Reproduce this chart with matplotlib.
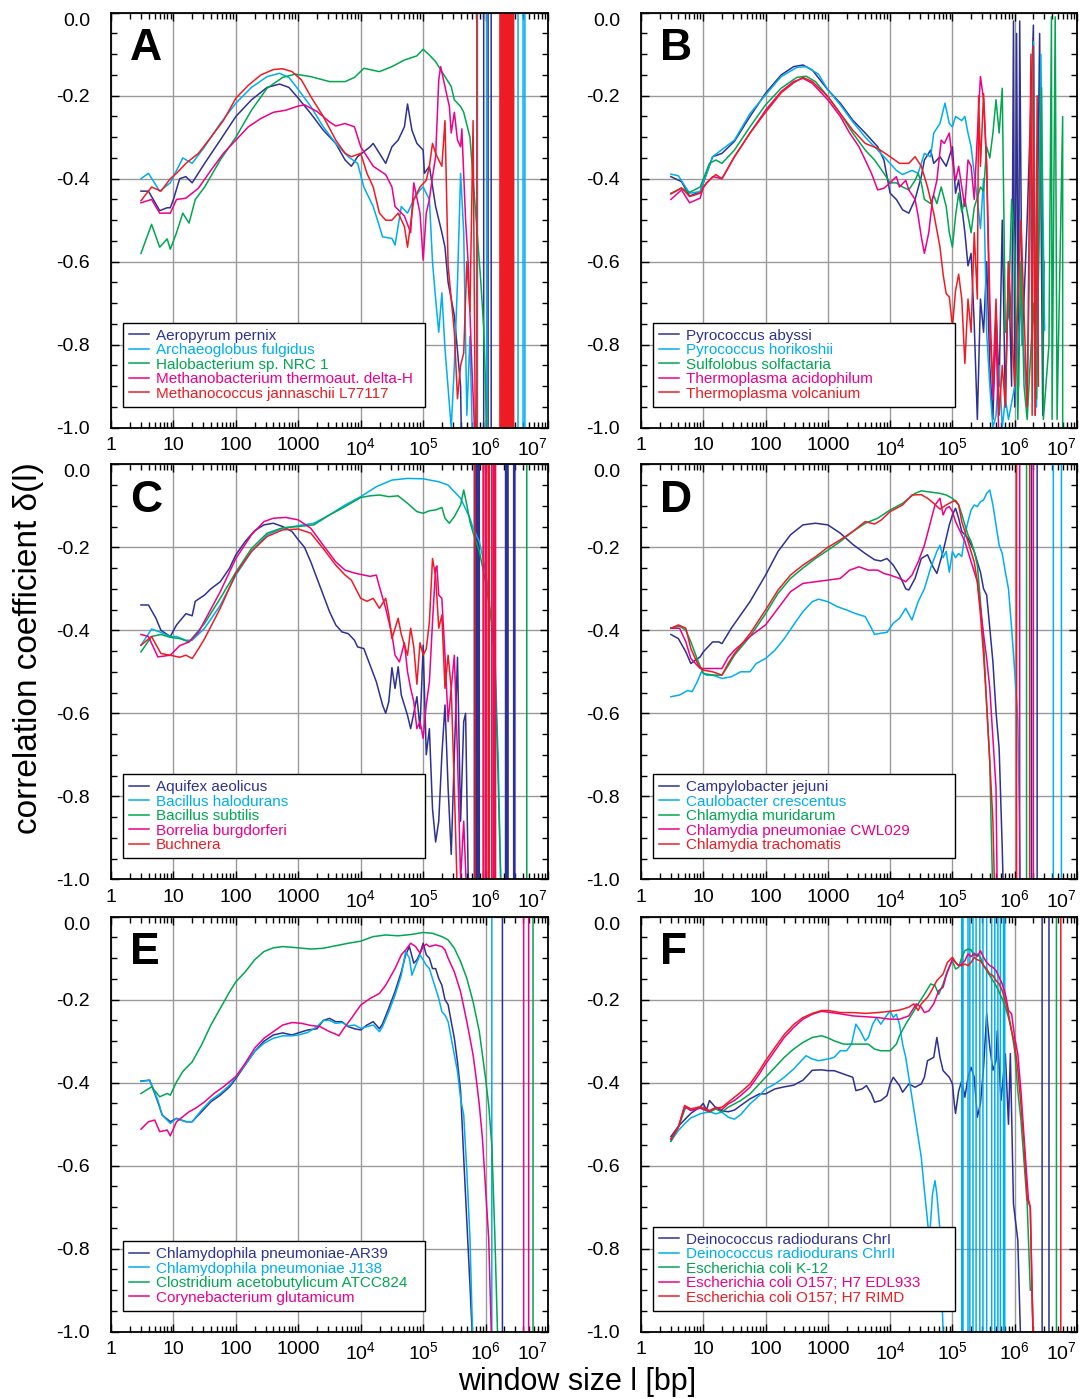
import numpy as np
import matplotlib
matplotlib.use("Agg")
import matplotlib.pyplot as plt
from matplotlib.ticker import FixedLocator, LogLocator, MultipleLocator, NullFormatter

plt.rcParams['font.family'] = ['Liberation Sans', 'DejaVu Sans']
plt.rcParams['mathtext.fontset'] = 'custom'
plt.rcParams['mathtext.rm'] = 'Liberation Sans'
plt.rcParams['mathtext.it'] = 'Liberation Sans:italic'
plt.rcParams['mathtext.bf'] = 'Liberation Sans:bold'

NAVY, CYAN, GREEN, MAGENTA, RED = '#2e3192', '#00aeef', '#00a651', '#ec008c', '#ed1c24'

# x values are log10(window size); d values are the correlation coefficient.
# *_spk lists the window sizes (log10) where the estimate swings far off scale.

# ---------------- A ----------------
a_aero_lx = [0.48,0.6,0.78,0.9,0.95,1.0,1.1,1.2,1.3,1.5,1.75,2.0,2.25,2.5,2.7,2.85,3.0,3.2,3.4,3.6,3.75,3.85,3.95,4.05,4.15,4.2,4.3,4.4,4.5,4.6,4.7,4.75,4.82,4.9,5.0,5.02,5.1,5.2,5.3,5.35,5.4,5.5,5.6,5.62]
a_aero_d = [-0.43,-0.43,-0.477,-0.47,-0.47,-0.45,-0.40,-0.395,-0.41,-0.363,-0.307,-0.25,-0.21,-0.18,-0.172,-0.18,-0.206,-0.243,-0.283,-0.315,-0.355,-0.37,-0.347,-0.335,-0.323,-0.315,-0.339,-0.363,-0.323,-0.307,-0.275,-0.22,-0.283,-0.315,-0.331,-0.387,-0.37,-0.467,-0.53,-0.565,-0.65,-0.73,-0.9,-1.1]
a_aero_spk = [5.97, 6.04, 6.09]

a_arch_lx = [0.48,0.6,0.78,0.95,1.0,1.15,1.3,1.5,1.75,2.0,2.25,2.5,2.7,2.85,3.0,3.2,3.4,3.6,3.8,3.95,4.05,4.2,4.3,4.35,4.5,4.55,4.65,4.75,4.85,4.95,5.0,5.1,5.15,5.2,5.25,5.3,5.35,5.45,5.5,5.55,5.6,5.65,5.7,5.75,5.8]
a_arch_d = [-0.40,-0.387,-0.43,-0.41,-0.395,-0.35,-0.363,-0.323,-0.267,-0.218,-0.18,-0.154,-0.146,-0.156,-0.185,-0.226,-0.275,-0.315,-0.347,-0.363,-0.42,-0.467,-0.515,-0.54,-0.544,-0.56,-0.467,-0.483,-0.45,-0.427,-0.42,-0.45,-0.6,-0.69,-0.77,-0.675,-0.81,-1.0,-0.85,-0.65,-0.387,-0.53,-0.97,-0.78,-1.1]
a_arch_spk = [5.87, 6.02, 6.52, 6.6, 6.63]

a_halo_lx = [0.48,0.65,0.78,0.9,0.95,1.05,1.15,1.25,1.35,1.5,1.75,2.0,2.25,2.5,2.75,2.95,3.2,3.5,3.75,3.9,4.05,4.3,4.5,4.7,4.9,5.0,5.1,5.2,5.25,5.35,5.45,5.5,5.6,5.65,5.75,5.85,5.92,5.97,6.0,6.02]
a_halo_d = [-0.58,-0.51,-0.565,-0.545,-0.57,-0.53,-0.483,-0.507,-0.45,-0.42,-0.355,-0.3,-0.235,-0.182,-0.156,-0.148,-0.154,-0.166,-0.166,-0.156,-0.134,-0.142,-0.13,-0.114,-0.104,-0.088,-0.102,-0.118,-0.13,-0.154,-0.178,-0.21,-0.226,-0.24,-0.30,-0.5,-0.64,-0.76,-0.9,-1.1]
a_halo_spk = [6.3]

a_mthb_lx = [0.48,0.65,0.78,0.95,1.05,1.2,1.4,1.6,1.8,2.0,2.2,2.4,2.6,2.8,3.0,3.1,3.3,3.5,3.6,3.75,3.9,4.0,4.2,4.4,4.5,4.55,4.7,4.8,4.85,4.95,5.0,5.05,5.1,5.15,5.2,5.25,5.28,5.35,5.42,5.45,5.5,5.55,5.6,5.62,5.68,5.72,5.78,5.85]
a_mthb_d = [-0.458,-0.45,-0.483,-0.483,-0.45,-0.447,-0.423,-0.38,-0.339,-0.307,-0.275,-0.255,-0.24,-0.235,-0.225,-0.222,-0.238,-0.263,-0.273,-0.267,-0.275,-0.323,-0.37,-0.39,-0.42,-0.467,-0.49,-0.53,-0.41,-0.483,-0.596,-0.483,-0.45,-0.395,-0.347,-0.162,-0.13,-0.178,-0.226,-0.29,-0.24,-0.307,-0.323,-0.28,-0.5,-0.6,-0.85,-1.1]
a_mthb_spk = [6.25, 6.31]

a_mthc_lx = [0.48,0.65,0.8,0.95,1.05,1.2,1.4,1.6,1.8,2.0,2.2,2.4,2.6,2.75,2.9,3.05,3.2,3.4,3.6,3.75,3.85,4.0,4.1,4.2,4.3,4.4,4.5,4.6,4.7,4.75,4.85,4.95,5.05,5.1,5.15,5.2,5.25,5.3,5.35,5.4,5.45,5.5,5.55,5.6,5.65,5.7,5.75,5.8,5.84]
a_mthc_d = [-0.453,-0.42,-0.43,-0.4,-0.387,-0.363,-0.339,-0.3,-0.26,-0.206,-0.175,-0.15,-0.137,-0.135,-0.142,-0.162,-0.202,-0.25,-0.307,-0.339,-0.347,-0.339,-0.387,-0.42,-0.483,-0.5,-0.5,-0.483,-0.515,-0.565,-0.45,-0.42,-0.404,-0.37,-0.315,-0.339,-0.355,-0.37,-0.26,-0.61,-0.69,-0.77,-0.93,-0.85,-0.82,-0.6,-0.72,-0.26,-1.1]
a_mthc_spk = [5.86, 6.23, 6.25, 6.27, 6.29, 6.31, 6.33, 6.35, 6.37, 6.39, 6.41, 6.43, 6.45]

# ---------------- B ----------------
b_pab_lx = [0.48,0.65,0.78,0.95,1.0,1.15,1.3,1.5,1.75,2.0,2.25,2.45,2.6,2.75,3.0,3.2,3.4,3.6,3.8,3.9,4.0,4.1,4.2,4.3,4.4,4.5,4.55,4.65,4.7,4.8,4.9,5.0,5.05,5.1,5.2,5.25,5.3,5.35,5.4,5.45,5.5,5.55,5.6,5.65,5.7,5.75,5.8,5.85,5.9,5.95,5.98,6.0,6.03,6.06,6.08,6.12,6.2,6.3,6.33,6.4,6.45,6.47]
b_pab_d = [-0.395,-0.407,-0.442,-0.431,-0.41,-0.347,-0.339,-0.31,-0.25,-0.194,-0.15,-0.13,-0.126,-0.138,-0.186,-0.218,-0.259,-0.29,-0.323,-0.355,-0.435,-0.45,-0.475,-0.483,-0.45,-0.395,-0.355,-0.331,-0.363,-0.347,-0.37,-0.323,-0.435,-0.404,-0.53,-0.61,-0.58,-0.75,-0.98,-0.69,-0.77,-0.6,-0.85,-0.98,-0.72,-0.9,-0.5,-0.95,-0.6,-0.9,-0.02,-0.95,-0.05,-0.9,-0.02,-0.8,-0.5,-0.03,-0.97,-0.05,-0.97,-0.6]

b_pho_lx = [0.48,0.6,0.78,0.95,1.15,1.5,1.75,2.0,2.25,2.5,2.65,2.85,3.0,3.2,3.4,3.6,3.8,3.95,4.1,4.2,4.35,4.45,4.55,4.65,4.7,4.8,4.88,4.95,5.0,5.05,5.15,5.2,5.25,5.3,5.35,5.4,5.45,5.5,5.55,5.6,5.65,5.7,5.75,5.8,5.85,5.9,6.0,6.1,6.2,6.3,6.35,6.42,6.48]
b_pho_d = [-0.389,-0.393,-0.435,-0.431,-0.347,-0.307,-0.243,-0.198,-0.154,-0.132,-0.13,-0.148,-0.186,-0.222,-0.263,-0.3,-0.331,-0.355,-0.38,-0.39,-0.38,-0.387,-0.339,-0.347,-0.29,-0.267,-0.218,-0.267,-0.275,-0.25,-0.26,-0.25,-0.29,-0.323,-0.387,-0.45,-0.52,-0.40,-0.77,-0.9,-1.0,-0.97,-0.85,-1.0,-0.93,-0.98,-0.9,-0.7,-0.95,-0.07,-0.95,-0.1,-0.765]

b_sul_lx = [0.48,0.65,0.78,0.95,1.1,1.2,1.3,1.5,1.75,2.0,2.25,2.5,2.65,2.8,3.0,3.2,3.4,3.6,3.75,3.9,4.0,4.1,4.2,4.3,4.4,4.45,4.5,4.55,4.65,4.7,4.75,4.82,4.9,4.95,5.0,5.05,5.1,5.15,5.2,5.25,5.3,5.35,5.4,5.45,5.5,5.55,5.6,5.65,5.7,5.75,5.8,5.85,5.9,5.95,6.0,6.05,6.1,6.15,6.2,6.3,6.35,6.43,6.46,6.55,6.59,6.6,6.65,6.68,6.77,6.77]
b_sul_d = [-0.435,-0.423,-0.433,-0.42,-0.363,-0.355,-0.363,-0.331,-0.275,-0.222,-0.182,-0.156,-0.153,-0.166,-0.202,-0.243,-0.29,-0.331,-0.355,-0.387,-0.41,-0.41,-0.42,-0.427,-0.404,-0.387,-0.41,-0.45,-0.46,-0.44,-0.46,-0.42,-0.467,-0.53,-0.565,-0.49,-0.435,-0.48,-0.45,-0.49,-0.53,-0.47,-0.445,-0.42,-0.43,-0.323,-0.35,-0.29,-0.21,-0.29,-0.182,-0.77,-0.73,-0.45,-0.57,-0.98,-0.6,-0.9,-0.98,-0.7,-0.93,-0.18,-0.98,-0.8,-0.01,-0.98,-0.01,-0.98,-0.25,-1.0]

b_tac_lx = [0.48,0.65,0.78,0.95,1.0,1.15,1.3,1.5,1.75,2.0,2.25,2.45,2.6,2.75,3.0,3.2,3.35,3.5,3.6,3.7,3.8,3.9,4.0,4.1,4.15,4.25,4.3,4.4,4.45,4.5,4.55,4.62,4.68,4.75,4.82,4.87,4.95,5.0,5.05,5.1,5.15,5.2,5.25,5.3,5.35,5.42,5.45,5.5,5.55,5.6,5.65,5.7,5.75]
b_tac_d = [-0.45,-0.427,-0.458,-0.447,-0.42,-0.395,-0.4,-0.347,-0.29,-0.235,-0.19,-0.166,-0.158,-0.17,-0.21,-0.25,-0.29,-0.323,-0.355,-0.387,-0.427,-0.423,-0.41,-0.395,-0.42,-0.404,-0.427,-0.45,-0.49,-0.54,-0.58,-0.53,-0.45,-0.404,-0.307,-0.315,-0.29,-0.355,-0.404,-0.37,-0.42,-0.467,-0.355,-0.37,-0.45,-0.235,-0.154,-0.21,-0.37,-0.69,-0.93,-0.77,-1.05]

b_tvo_lx = [0.48,0.65,0.78,0.95,1.05,1.2,1.3,1.5,1.75,2.0,2.25,2.45,2.6,2.75,3.0,3.2,3.4,3.6,3.8,4.0,4.15,4.3,4.4,4.5,4.6,4.7,4.8,4.85,4.9,4.95,5.0,5.05,5.1,5.15,5.2,5.25,5.3,5.35,5.4,5.42,5.45,5.5,5.55,5.6,5.65,5.7,5.75,5.8,5.85,5.9,6.0,6.1,6.2,6.26,6.28,6.3,6.33,6.36,6.38]
b_tvo_d = [-0.437,-0.422,-0.443,-0.435,-0.41,-0.39,-0.4,-0.347,-0.29,-0.24,-0.193,-0.169,-0.156,-0.166,-0.202,-0.243,-0.283,-0.315,-0.327,-0.347,-0.363,-0.363,-0.347,-0.37,-0.42,-0.483,-0.565,-0.63,-0.677,-0.685,-0.757,-0.67,-0.63,-0.69,-0.845,-0.69,-0.77,-0.53,-0.69,-0.2,-0.37,-0.195,-0.37,-0.77,-0.89,-0.69,-0.97,-0.85,-0.95,-0.6,-0.9,-0.5,-0.95,-0.1,-0.97,-0.08,-0.97,-0.2,-0.9]

# ---------------- C ----------------
c_aqu_lx = [0.48,0.6,0.72,0.8,0.95,1.05,1.2,1.3,1.35,1.5,1.6,1.75,1.9,2.0,2.15,2.3,2.45,2.6,2.75,2.9,3.0,3.1,3.2,3.3,3.4,3.5,3.6,3.7,3.8,3.9,3.95,4.05,4.15,4.25,4.35,4.4,4.45,4.5,4.55,4.6,4.65,4.75,4.8,4.85,4.9,4.95,5.0,5.05,5.1,5.15,5.2,5.25,5.3,5.35,5.4,5.45,5.5,5.55,5.6,5.65,5.68,5.72,5.75]
c_aqu_d = [-0.339,-0.339,-0.371,-0.4,-0.415,-0.387,-0.36,-0.365,-0.33,-0.315,-0.3,-0.283,-0.25,-0.218,-0.186,-0.16,-0.146,-0.142,-0.15,-0.162,-0.182,-0.2,-0.235,-0.275,-0.315,-0.355,-0.387,-0.404,-0.408,-0.424,-0.44,-0.444,-0.484,-0.524,-0.58,-0.6,-0.572,-0.49,-0.54,-0.488,-0.556,-0.605,-0.637,-0.6,-0.56,-0.637,-0.436,-0.7,-0.637,-0.83,-0.91,-0.86,-0.7,-0.58,-0.78,-0.94,-0.7,-0.465,-0.86,-0.62,-0.6,-0.98,-1.1]
c_aqu_spk = [5.82, 5.84, 5.86, 5.88, 5.9, 6.32, 6.34, 6.36, 6.45, 6.47]

c_bha_lx = [0.48,0.65,0.8,0.95,1.05,1.2,1.3,1.5,1.75,2.0,2.25,2.5,2.75,3.0,3.25,3.5,3.75,4.0,4.25,4.5,4.75,5.0,5.25,5.4,5.5,5.6,5.7,5.75,5.8,5.9,5.95,6.0,6.05,6.1,6.15,6.2,6.25]
c_bha_d = [-0.436,-0.397,-0.405,-0.415,-0.415,-0.424,-0.424,-0.395,-0.34,-0.267,-0.21,-0.17,-0.154,-0.148,-0.142,-0.122,-0.098,-0.078,-0.054,-0.038,-0.034,-0.035,-0.042,-0.05,-0.066,-0.082,-0.114,-0.13,-0.154,-0.186,-0.22,-0.26,-0.31,-0.40,-0.46,-0.7,-1.05]

c_bsu_lx = [0.48,0.65,0.8,0.95,1.1,1.25,1.5,1.75,2.0,2.25,2.5,2.75,3.0,3.25,3.5,3.75,4.0,4.15,4.3,4.45,4.6,4.75,4.9,5.0,5.1,5.2,5.3,5.35,5.42,5.5,5.6,5.65,5.7,5.75,5.8,5.9,6.0,6.1,6.15,6.2,6.25]
c_bsu_d = [-0.452,-0.415,-0.41,-0.417,-0.42,-0.428,-0.383,-0.323,-0.26,-0.203,-0.166,-0.153,-0.15,-0.146,-0.122,-0.102,-0.08,-0.076,-0.074,-0.078,-0.076,-0.094,-0.114,-0.118,-0.112,-0.11,-0.104,-0.13,-0.142,-0.126,-0.098,-0.062,-0.098,-0.138,-0.165,-0.21,-0.283,-0.38,-0.492,-0.75,-1.05]
c_bsu_spk = [6.66]

c_bor_lx = [0.48,0.6,0.75,0.95,1.1,1.25,1.4,1.55,1.75,2.0,2.25,2.45,2.6,2.8,3.0,3.2,3.4,3.6,3.75,3.9,4.05,4.15,4.25,4.3,4.4,4.5,4.55,4.62,4.7,4.75,4.8,4.85,4.9,4.95,5.0,5.05,5.1,5.15,5.2,5.22,5.25,5.3,5.35,5.4,5.45,5.5,5.55,5.6,5.65,5.7]
c_bor_d = [-0.41,-0.415,-0.464,-0.46,-0.437,-0.428,-0.405,-0.363,-0.307,-0.227,-0.17,-0.138,-0.13,-0.128,-0.134,-0.154,-0.195,-0.235,-0.255,-0.262,-0.267,-0.27,-0.267,-0.295,-0.347,-0.41,-0.46,-0.476,-0.43,-0.5,-0.54,-0.572,-0.637,-0.62,-0.66,-0.58,-0.525,-0.38,-0.25,-0.245,-0.315,-0.323,-0.46,-0.62,-0.54,-0.46,-0.7,-1.0,-0.86,-1.05]
c_bor_spk = [5.97, 6.0, 6.05, 6.1, 6.13, 6.16]

c_buc_lx = [0.48,0.65,0.8,0.95,1.1,1.2,1.3,1.4,1.5,1.75,2.0,2.25,2.5,2.75,3.0,3.2,3.4,3.6,3.75,3.85,4.0,4.1,4.2,4.3,4.4,4.45,4.5,4.6,4.65,4.75,4.8,4.85,4.9,4.95,5.0,5.05,5.1,5.15,5.2,5.25,5.3,5.35,5.4,5.45,5.5,5.55]
c_buc_d = [-0.436,-0.415,-0.456,-0.46,-0.465,-0.46,-0.468,-0.445,-0.42,-0.347,-0.263,-0.21,-0.174,-0.158,-0.156,-0.166,-0.203,-0.243,-0.267,-0.279,-0.323,-0.33,-0.323,-0.347,-0.323,-0.363,-0.42,-0.371,-0.41,-0.46,-0.395,-0.44,-0.53,-0.43,-0.46,-0.445,-0.38,-0.227,-0.27,-0.395,-0.363,-0.54,-0.46,-0.54,-0.78,-1.05]
c_buc_spk = [5.83, 5.96, 6.02, 6.06, 6.1, 6.14]

# ---------------- D ----------------
d_cje_lx = [0.48,0.6,0.72,0.8,0.95,1.0,1.15,1.25,1.3,1.45,1.6,1.75,2.0,2.2,2.4,2.6,2.8,3.0,3.2,3.4,3.6,3.75,3.85,3.95,4.05,4.15,4.25,4.3,4.4,4.5,4.6,4.68,4.75,4.85,4.95,5.0,5.05,5.1,5.15,5.25,5.35,5.45,5.5,5.55,5.6,5.65,5.7,5.75,5.8,5.82]
d_cje_d = [-0.41,-0.42,-0.452,-0.48,-0.464,-0.452,-0.428,-0.428,-0.432,-0.395,-0.363,-0.331,-0.267,-0.21,-0.17,-0.146,-0.142,-0.146,-0.166,-0.193,-0.215,-0.23,-0.233,-0.227,-0.243,-0.267,-0.3,-0.303,-0.275,-0.227,-0.218,-0.245,-0.263,-0.21,-0.146,-0.122,-0.106,-0.13,-0.162,-0.178,-0.21,-0.26,-0.3,-0.315,-0.395,-0.476,-0.597,-0.685,-0.926,-1.05]
d_cje_spk = [6.27, 6.36]

d_ccr_lx = [0.48,0.62,0.75,0.82,0.9,0.97,1.05,1.15,1.3,1.45,1.6,1.75,1.85,2.0,2.15,2.3,2.45,2.6,2.75,2.85,3.0,3.15,3.3,3.45,3.6,3.7,3.75,3.85,3.95,4.05,4.15,4.25,4.35,4.45,4.55,4.65,4.75,4.8,4.85,4.9,4.95,5.0,5.05,5.1,5.15,5.2,5.25,5.3,5.35,5.4,5.45,5.5,5.55,5.6,5.65,5.7,5.75,5.8,5.85,5.9,5.95,6.0,6.05,6.1]
d_ccr_d = [-0.56,-0.556,-0.545,-0.548,-0.525,-0.5,-0.508,-0.508,-0.516,-0.512,-0.5,-0.5,-0.48,-0.468,-0.448,-0.42,-0.387,-0.355,-0.331,-0.325,-0.331,-0.343,-0.351,-0.36,-0.367,-0.395,-0.41,-0.407,-0.405,-0.383,-0.371,-0.347,-0.375,-0.331,-0.3,-0.25,-0.21,-0.195,-0.225,-0.21,-0.26,-0.21,-0.225,-0.215,-0.222,-0.17,-0.138,-0.11,-0.098,-0.102,-0.09,-0.086,-0.07,-0.062,-0.098,-0.146,-0.195,-0.215,-0.26,-0.3,-0.395,-0.5,-0.613,-1.1]
d_ccr_spk = [6.62, 6.75]

d_cmu_lx = [0.48,0.62,0.72,0.8,0.92,1.0,1.15,1.3,1.4,1.5,1.75,2.0,2.2,2.4,2.6,2.8,3.0,3.2,3.4,3.6,3.8,4.0,4.2,4.4,4.5,4.6,4.7,4.8,4.9,5.0,5.05,5.1,5.15,5.2,5.25,5.3,5.35,5.4,5.45,5.5,5.55,5.6,5.62,5.65]
d_cmu_d = [-0.395,-0.39,-0.4,-0.428,-0.476,-0.504,-0.508,-0.508,-0.485,-0.46,-0.415,-0.36,-0.311,-0.275,-0.25,-0.227,-0.207,-0.186,-0.162,-0.142,-0.13,-0.11,-0.094,-0.07,-0.064,-0.066,-0.068,-0.07,-0.074,-0.082,-0.09,-0.098,-0.12,-0.146,-0.17,-0.186,-0.21,-0.243,-0.331,-0.428,-0.58,-0.717,-0.86,-1.05]
d_cmu_spk = [6.19]

d_cpn_lx = [0.48,0.62,0.72,0.8,0.95,1.1,1.3,1.4,1.5,1.75,2.0,2.2,2.4,2.6,2.8,3.0,3.2,3.35,3.5,3.65,3.8,3.9,4.0,4.15,4.25,4.35,4.45,4.55,4.65,4.72,4.8,4.85,4.9,4.95,5.0,5.05,5.1,5.2,5.3,5.4,5.45,5.5,5.55,5.6,5.65,5.7,5.72]
d_cpn_d = [-0.395,-0.395,-0.428,-0.468,-0.492,-0.492,-0.492,-0.465,-0.448,-0.415,-0.387,-0.347,-0.307,-0.287,-0.283,-0.279,-0.275,-0.255,-0.247,-0.255,-0.255,-0.263,-0.267,-0.275,-0.283,-0.267,-0.235,-0.195,-0.138,-0.098,-0.082,-0.122,-0.106,-0.102,-0.114,-0.138,-0.154,-0.186,-0.235,-0.283,-0.347,-0.41,-0.468,-0.54,-0.66,-0.78,-1.05]
d_cpn_spk = [6.08, 6.3]

d_ctr_lx = [0.48,0.6,0.72,0.8,0.92,1.0,1.15,1.3,1.4,1.5,1.75,2.0,2.2,2.4,2.6,2.8,3.0,3.2,3.4,3.6,3.75,3.85,4.0,4.2,4.35,4.5,4.6,4.7,4.8,4.9,5.0,5.05,5.1,5.15,5.25,5.35,5.4,5.45,5.5,5.55,5.6,5.65,5.68]
d_ctr_d = [-0.395,-0.387,-0.395,-0.444,-0.484,-0.496,-0.5,-0.508,-0.48,-0.456,-0.408,-0.351,-0.303,-0.267,-0.243,-0.223,-0.2,-0.182,-0.162,-0.138,-0.144,-0.135,-0.114,-0.098,-0.074,-0.073,-0.082,-0.094,-0.108,-0.098,-0.09,-0.087,-0.098,-0.138,-0.186,-0.235,-0.283,-0.363,-0.46,-0.58,-0.717,-0.86,-1.05]
d_ctr_spk = [6.03, 6.24]

# ---------------- E ----------------
e_ar39_lx = [0.48,0.62,0.75,0.82,0.95,1.05,1.2,1.3,1.45,1.6,1.75,1.9,2.0,2.15,2.3,2.45,2.6,2.75,2.9,3.0,3.15,3.3,3.4,3.5,3.6,3.7,3.8,3.9,4.0,4.1,4.2,4.3,4.35,4.45,4.55,4.65,4.72,4.78,4.85,4.9,4.95,5.0,5.05,5.1,5.15,5.2,5.25,5.3,5.35,5.4,5.45,5.5,5.55,5.6,5.65,5.7,5.75,5.8]
e_ar39_d = [-0.396,-0.394,-0.446,-0.478,-0.494,-0.486,-0.494,-0.494,-0.47,-0.446,-0.43,-0.41,-0.39,-0.357,-0.325,-0.3,-0.285,-0.28,-0.285,-0.28,-0.273,-0.27,-0.25,-0.245,-0.253,-0.253,-0.265,-0.27,-0.273,-0.261,-0.253,-0.27,-0.258,-0.22,-0.18,-0.133,-0.092,-0.072,-0.112,-0.104,-0.088,-0.064,-0.092,-0.1,-0.125,-0.125,-0.149,-0.165,-0.2,-0.212,-0.253,-0.293,-0.35,-0.42,-0.582,-0.735,-0.888,-1.05]
e_ar39_spk = [6.27]

e_j138_lx = [0.48,0.62,0.75,0.82,0.95,1.05,1.2,1.3,1.45,1.6,1.75,1.9,2.0,2.15,2.3,2.45,2.6,2.75,2.9,3.0,3.15,3.3,3.4,3.5,3.6,3.7,3.8,3.9,4.0,4.1,4.2,4.3,4.35,4.45,4.55,4.65,4.72,4.78,4.82,4.88,4.95,5.0,5.05,5.1,5.15,5.2,5.25,5.3,5.35,5.4,5.45,5.5,5.55,5.6,5.65,5.7,5.75,5.8]
e_j138_d = [-0.397,-0.394,-0.442,-0.478,-0.498,-0.486,-0.494,-0.494,-0.466,-0.442,-0.426,-0.406,-0.386,-0.357,-0.325,-0.305,-0.293,-0.287,-0.287,-0.285,-0.279,-0.265,-0.25,-0.25,-0.257,-0.255,-0.263,-0.261,-0.269,-0.265,-0.261,-0.277,-0.265,-0.229,-0.189,-0.141,-0.084,-0.1,-0.141,-0.117,-0.092,-0.104,-0.117,-0.125,-0.149,-0.173,-0.197,-0.229,-0.237,-0.253,-0.293,-0.333,-0.373,-0.438,-0.478,-0.614,-0.775,-1.05]
e_j138_spk = [6.1]

e_clo_lx = [0.48,0.65,0.78,0.9,0.95,1.05,1.15,1.3,1.45,1.6,1.75,1.9,2.0,2.15,2.3,2.45,2.6,2.75,3.0,3.2,3.4,3.6,3.8,4.0,4.2,4.4,4.6,4.8,5.0,5.15,5.3,5.4,5.5,5.6,5.7,5.8,5.9,5.95,6.0,6.05,6.1,6.15,6.2]
e_clo_d = [-0.426,-0.41,-0.434,-0.426,-0.43,-0.398,-0.373,-0.35,-0.309,-0.261,-0.221,-0.181,-0.157,-0.133,-0.104,-0.084,-0.075,-0.072,-0.075,-0.078,-0.076,-0.07,-0.064,-0.059,-0.048,-0.044,-0.046,-0.043,-0.038,-0.04,-0.048,-0.056,-0.076,-0.108,-0.149,-0.205,-0.277,-0.333,-0.39,-0.454,-0.55,-0.775,-1.05]
e_clo_spk = [6.76]

e_cor_lx = [0.48,0.6,0.7,0.78,0.9,0.95,1.05,1.15,1.25,1.35,1.5,1.65,1.8,2.0,2.15,2.3,2.45,2.6,2.75,2.9,3.05,3.2,3.35,3.5,3.6,3.65,3.75,3.85,4.0,4.15,4.3,4.4,4.55,4.65,4.72,4.8,4.88,4.95,5.0,5.05,5.1,5.2,5.3,5.35,5.4,5.5,5.6,5.7,5.75,5.8,5.85,5.9,5.95,6.0,6.05,6.1]
e_cor_d = [-0.512,-0.494,-0.49,-0.518,-0.514,-0.528,-0.494,-0.482,-0.47,-0.462,-0.446,-0.426,-0.41,-0.385,-0.353,-0.317,-0.293,-0.277,-0.261,-0.255,-0.257,-0.262,-0.265,-0.277,-0.283,-0.287,-0.265,-0.245,-0.213,-0.197,-0.185,-0.165,-0.125,-0.092,-0.08,-0.064,-0.072,-0.088,-0.072,-0.066,-0.072,-0.068,-0.072,-0.08,-0.1,-0.133,-0.181,-0.253,-0.293,-0.333,-0.39,-0.454,-0.535,-0.655,-0.775,-1.05]
e_cor_spk = [6.61, 6.69]

# ---------------- F ----------------
f_dr1_lx = [0.48,0.6,0.72,0.8,0.95,1.0,1.05,1.1,1.2,1.3,1.4,1.5,1.6,1.75,1.9,2.0,2.15,2.3,2.45,2.6,2.75,2.9,3.0,3.1,3.25,3.4,3.45,3.55,3.62,3.7,3.75,3.85,3.95,4.0,4.05,4.15,4.2,4.3,4.4,4.5,4.55,4.6,4.7,4.75,4.8,4.85,4.95,5.0,5.03,5.05,5.1,5.15,5.2,5.25,5.3,5.35,5.4,5.45,5.5,5.55,5.6,5.65,5.7,5.72,5.78,5.85,5.9,5.93,5.98,6.05,6.1]
f_dr1_d = [-0.53,-0.505,-0.486,-0.474,-0.458,-0.45,-0.466,-0.443,-0.46,-0.468,-0.47,-0.466,-0.455,-0.439,-0.427,-0.427,-0.415,-0.41,-0.406,-0.394,-0.37,-0.369,-0.371,-0.371,-0.379,-0.387,-0.419,-0.415,-0.407,-0.427,-0.447,-0.443,-0.431,-0.403,-0.387,-0.407,-0.423,-0.403,-0.411,-0.403,-0.387,-0.347,-0.339,-0.291,-0.339,-0.371,-0.387,-0.403,-0.45,-0.474,-0.42,-0.395,-0.435,-0.387,-0.363,-0.387,-0.483,-0.45,-0.363,-0.234,-0.315,-0.37,-0.347,-0.275,-0.443,-0.331,-0.5,-0.33,-0.692,-0.78,-1.05]
f_dr1_spk = [6.44, 6.55]

f_dr2_lx = [0.48,0.6,0.72,0.8,0.95,1.1,1.2,1.3,1.4,1.5,1.6,1.75,1.9,2.0,2.15,2.3,2.45,2.55,2.65,2.75,2.85,3.0,3.1,3.2,3.3,3.38,3.45,3.52,3.6,3.65,3.72,3.78,3.85,3.92,4.0,4.05,4.1,4.15,4.2,4.25,4.3,4.35,4.4,4.5,4.55,4.6,4.63,4.68,4.72,4.75,4.8,4.85,4.9]
f_dr2_d = [-0.541,-0.515,-0.496,-0.485,-0.475,-0.47,-0.475,-0.471,-0.483,-0.488,-0.477,-0.451,-0.431,-0.415,-0.403,-0.387,-0.367,-0.351,-0.335,-0.343,-0.347,-0.343,-0.339,-0.323,-0.323,-0.307,-0.259,-0.275,-0.299,-0.291,-0.259,-0.243,-0.259,-0.243,-0.227,-0.243,-0.235,-0.259,-0.307,-0.339,-0.387,-0.435,-0.483,-0.58,-0.66,-0.733,-0.78,-0.668,-0.636,-0.668,-0.757,-1.0,-1.1]
f_dr2_spk = [5.15, 5.17, 5.25, 5.28, 5.33, 5.38, 5.44, 5.49, 5.55, 5.63, 5.68, 5.73, 5.77, 5.82, 5.84]

f_k12_lx = [0.48,0.6,0.72,0.8,0.95,1.1,1.2,1.3,1.4,1.5,1.6,1.75,1.9,2.0,2.15,2.3,2.45,2.6,2.75,2.9,3.0,3.1,3.25,3.4,3.55,3.65,3.75,3.85,4.0,4.05,4.1,4.15,4.25,4.35,4.45,4.55,4.65,4.72,4.78,4.85,4.92,5.0,5.05,5.1,5.15,5.2,5.25,5.3,5.35,5.4,5.45,5.5,5.55,5.6,5.65,5.7,5.75,5.8,5.85,5.9,5.95,6.0,6.05,6.1,6.2,6.25,6.28,6.3]
f_k12_d = [-0.541,-0.507,-0.458,-0.467,-0.461,-0.471,-0.463,-0.471,-0.459,-0.451,-0.443,-0.427,-0.403,-0.387,-0.363,-0.339,-0.319,-0.303,-0.291,-0.287,-0.292,-0.299,-0.307,-0.307,-0.307,-0.307,-0.319,-0.323,-0.323,-0.315,-0.307,-0.287,-0.259,-0.235,-0.21,-0.187,-0.162,-0.166,-0.187,-0.162,-0.13,-0.106,-0.126,-0.122,-0.098,-0.082,-0.078,-0.08,-0.094,-0.09,-0.098,-0.118,-0.13,-0.142,-0.154,-0.166,-0.182,-0.198,-0.218,-0.243,-0.275,-0.323,-0.42,-0.49,-0.692,-0.9,-0.9,-1.05]
f_k12_spk = [6.67]

f_edl_lx = [0.48,0.6,0.7,0.8,0.95,1.1,1.2,1.3,1.4,1.5,1.6,1.75,1.9,2.0,2.15,2.3,2.45,2.6,2.75,2.9,3.0,3.2,3.4,3.6,3.8,4.0,4.15,4.3,4.35,4.42,4.5,4.55,4.62,4.7,4.78,4.85,4.9,4.95,5.0,5.05,5.1,5.15,5.2,5.25,5.3,5.35,5.4,5.45,5.5,5.55,5.6,5.65,5.7,5.75,5.8,5.85,5.9,5.95,6.0,6.05,6.1,6.15,6.2,6.22,6.25,6.3]
f_edl_d = [-0.536,-0.507,-0.458,-0.467,-0.461,-0.469,-0.459,-0.465,-0.451,-0.443,-0.431,-0.411,-0.379,-0.355,-0.323,-0.291,-0.267,-0.247,-0.235,-0.228,-0.23,-0.234,-0.239,-0.241,-0.243,-0.247,-0.247,-0.239,-0.227,-0.21,-0.218,-0.231,-0.227,-0.21,-0.178,-0.17,-0.142,-0.122,-0.102,-0.11,-0.118,-0.114,-0.106,-0.09,-0.096,-0.088,-0.096,-0.082,-0.098,-0.11,-0.118,-0.122,-0.13,-0.146,-0.162,-0.186,-0.226,-0.234,-0.291,-0.331,-0.42,-0.532,-0.64,-0.68,-0.7,-1.05]

f_rim_lx = [0.48,0.6,0.7,0.8,0.95,1.1,1.2,1.3,1.4,1.5,1.6,1.75,1.9,2.0,2.15,2.3,2.45,2.6,2.75,2.9,3.0,3.2,3.4,3.6,3.8,4.0,4.15,4.3,4.38,4.45,4.5,4.6,4.65,4.75,4.85,4.92,5.0,5.05,5.1,5.15,5.2,5.25,5.3,5.35,5.4,5.45,5.5,5.55,5.6,5.65,5.7,5.75,5.8,5.85,5.9,5.95,6.0,6.05,6.1,6.15,6.2,6.25,6.3]
f_rim_d = [-0.536,-0.507,-0.455,-0.463,-0.458,-0.467,-0.461,-0.459,-0.447,-0.435,-0.423,-0.403,-0.371,-0.347,-0.315,-0.284,-0.26,-0.243,-0.233,-0.226,-0.226,-0.231,-0.231,-0.233,-0.231,-0.228,-0.225,-0.218,-0.21,-0.226,-0.21,-0.194,-0.182,-0.154,-0.138,-0.11,-0.098,-0.11,-0.118,-0.118,-0.114,-0.118,-0.11,-0.098,-0.104,-0.106,-0.118,-0.126,-0.138,-0.142,-0.154,-0.162,-0.178,-0.202,-0.234,-0.275,-0.307,-0.37,-0.452,-0.548,-0.68,-0.7,-1.05]
f_rim_spk = [6.74]

PANELS = [
    ("A", [("Aeropyrum pernix", NAVY, a_aero_lx, a_aero_d, a_aero_spk),
           ("Archaeoglobus fulgidus", CYAN, a_arch_lx, a_arch_d, a_arch_spk),
           ("Halobacterium sp. NRC 1", GREEN, a_halo_lx, a_halo_d, a_halo_spk),
           ("Methanobacterium thermoaut. delta-H", MAGENTA, a_mthb_lx, a_mthb_d, a_mthb_spk),
           ("Methanococcus jannaschii L77117", RED, a_mthc_lx, a_mthc_d, a_mthc_spk)]),
    ("B", [("Pyrococcus abyssi", NAVY, b_pab_lx, b_pab_d, []),
           ("Pyrococcus horikoshii", CYAN, b_pho_lx, b_pho_d, []),
           ("Sulfolobus solfactaria", GREEN, b_sul_lx, b_sul_d, []),
           ("Thermoplasma acidophilum", MAGENTA, b_tac_lx, b_tac_d, []),
           ("Thermoplasma volcanium", RED, b_tvo_lx, b_tvo_d, [])]),
    ("C", [("Aquifex aeolicus", NAVY, c_aqu_lx, c_aqu_d, c_aqu_spk),
           ("Bacillus halodurans", CYAN, c_bha_lx, c_bha_d, []),
           ("Bacillus subtilis", GREEN, c_bsu_lx, c_bsu_d, c_bsu_spk),
           ("Borrelia burgdorferi", MAGENTA, c_bor_lx, c_bor_d, c_bor_spk),
           ("Buchnera", RED, c_buc_lx, c_buc_d, c_buc_spk)]),
    ("D", [("Campylobacter jejuni", NAVY, d_cje_lx, d_cje_d, d_cje_spk),
           ("Caulobacter crescentus", CYAN, d_ccr_lx, d_ccr_d, d_ccr_spk),
           ("Chlamydia muridarum", GREEN, d_cmu_lx, d_cmu_d, d_cmu_spk),
           ("Chlamydia pneumoniae CWL029", MAGENTA, d_cpn_lx, d_cpn_d, d_cpn_spk),
           ("Chlamydia trachomatis", RED, d_ctr_lx, d_ctr_d, d_ctr_spk)]),
    ("E", [("Chlamydophila pneumoniae-AR39", NAVY, e_ar39_lx, e_ar39_d, e_ar39_spk),
           ("Chlamydophila pneumoniae J138", CYAN, e_j138_lx, e_j138_d, e_j138_spk),
           ("Clostridium acetobutylicum ATCC824", GREEN, e_clo_lx, e_clo_d, e_clo_spk),
           ("Corynebacterium glutamicum", MAGENTA, e_cor_lx, e_cor_d, e_cor_spk)]),
    ("F", [("Deinococcus radiodurans ChrI", NAVY, f_dr1_lx, f_dr1_d, f_dr1_spk),
           ("Deinococcus radiodurans ChrII", CYAN, f_dr2_lx, f_dr2_d, f_dr2_spk),
           ("Escherichia coli K-12", GREEN, f_k12_lx, f_k12_d, f_k12_spk),
           ("Escherichia coli O157; H7 EDL933", MAGENTA, f_edl_lx, f_edl_d, []),
           ("Escherichia coli O157; H7 RIMD", RED, f_rim_lx, f_rim_d, f_rim_spk)]),
]

XTICK_LABELS = ['1', '10', '100', '1000', '$10^{4}$', '$10^{5}$', '$10^{6}$', '$10^{7}$']
YTICKS = [0.0, -0.2, -0.4, -0.6, -0.8, -1.0]
YTICK_LABELS = ['0.0', '-0.2', '-0.4', '-0.6', '-0.8', '-1.0']

# off-scale excursion limits used for the wild oscillations at large windows
OFF_LO, OFF_HI = -1.6, 0.6


def build_series(lx, d, spikes):
    xs, ys = list(lx), list(d)
    low = True
    for s in spikes:
        xs += [s, s]
        ys += [OFF_LO, OFF_HI] if low else [OFF_HI, OFF_LO]
        low = not low
    return np.power(10.0, xs), np.array(ys)


W, H = 1080, 1399
fig = plt.figure(figsize=(W / 100, H / 100), dpi=100)

col_left = [111, 641]
col_width = [437, 436]
row_top = [12.7, 464.3, 916.7]
row_h = 415

for i, (letter, curves) in enumerate(PANELS):
    r, c = divmod(i, 2)
    ax = fig.add_axes([col_left[c] / W, 1 - (row_top[r] + row_h) / H,
                       col_width[c] / W, row_h / H])
    handles = []
    for label, color, lx, d, spk in curves:
        x, y = build_series(lx, d, spk)
        ln, = ax.plot(x, y, color=color, lw=1.1, label=label)
        handles.append(ln)
    ax.set_xscale('log')
    ax.set_xlim(1, 1e7)
    ax.set_ylim(-1, 0)
    ax.xaxis.set_major_locator(FixedLocator([10.0 ** k for k in range(8)]))
    ax.xaxis.set_minor_locator(LogLocator(base=10, subs=np.arange(2, 10), numticks=20))
    ax.xaxis.set_minor_formatter(NullFormatter())
    ax.set_xticklabels(XTICK_LABELS)
    ax.set_yticks(YTICKS)
    ax.set_yticklabels(YTICK_LABELS)
    ax.yaxis.set_minor_locator(MultipleLocator(0.05))
    ax.tick_params(which='both', direction='in', top=True, right=True, width=1.0,
                   labelsize=14, colors='black')
    ax.tick_params(which='major', length=6)
    ax.tick_params(which='minor', length=4)
    ax.tick_params(axis='x', pad=7)
    ax.tick_params(axis='y', pad=15)
    xl = ax.get_xticklabels()
    xl[-1].set_ha('right')
    yl = ax.get_yticklabels()
    yl[0].set_va('top')
    ax.grid(True, which='major', color='#9a9a9a', lw=1.0)
    ax.set_axisbelow(True)
    for sp in ax.spines.values():
        sp.set_linewidth(1.3)
    ax.text(19 / col_width[c], 1 - 47.5 / row_h, letter, transform=ax.transAxes,
            ha='left', va='baseline', fontsize=32, fontweight='bold')
    leg = ax.legend(handles=handles, loc='lower left',
                    bbox_to_anchor=(12 / col_width[c], 21 / row_h, 302 / col_width[c], 0),
                    mode='expand', borderaxespad=0, fontsize=11, labelcolor='linecolor',
                    handlelength=1.3, handletextpad=0.45, borderpad=0.4,
                    labelspacing=0.03, fancybox=False, framealpha=1,
                    edgecolor='black')
    leg.get_frame().set_linewidth(1.0)

fig.text(0.026, 0.537, 'correlation coefficient δ(l)', rotation=90,
         ha='center', va='center', fontsize=24)
fig.text(0.534, 0.0122, 'window size l [bp]', ha='center', va='center', fontsize=22)

fig.savefig('out.png', dpi=100)
